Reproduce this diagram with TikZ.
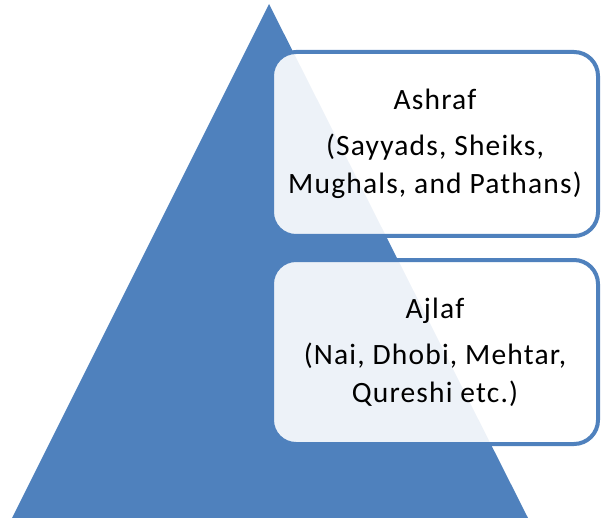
\documentclass[tikz,border=0pt]{standalone}
\usepackage{fontspec}
\setmainfont[LetterSpace=4]{Carlito}
\usepackage{xcolor}
\usetikzlibrary{positioning, calc}
\definecolor{pyrblue}{RGB}{79,129,189}
\tikzset{tierbox/.style={draw=pyrblue, line width=4pt, fill=white, fill opacity=0.9,
    text opacity=1, rounded corners=24pt, minimum width=326pt, minimum height=184pt,
    align=center, font=\fontsize{29.5}{38}\selectfont}}

\begin{document}
\begin{tikzpicture}[x=1pt,y=-1pt]
      \useasboundingbox (0,0) rectangle (601,518);
      \fill [pyrblue] (269,4) -- (528,518) -- (12,518) -- cycle;

      \node [tierbox] (ashraf) at (435,144) {Ashraf\\[8pt](Sayyads, Sheiks,\\Mughals, and Pathans)};
      \node [tierbox] (ajlaf) at (435,352) {Ajlaf\\[8pt](Nai, Dhobi, Mehtar,\\Qureshi etc.)};
    \end{tikzpicture}
\end{document}
